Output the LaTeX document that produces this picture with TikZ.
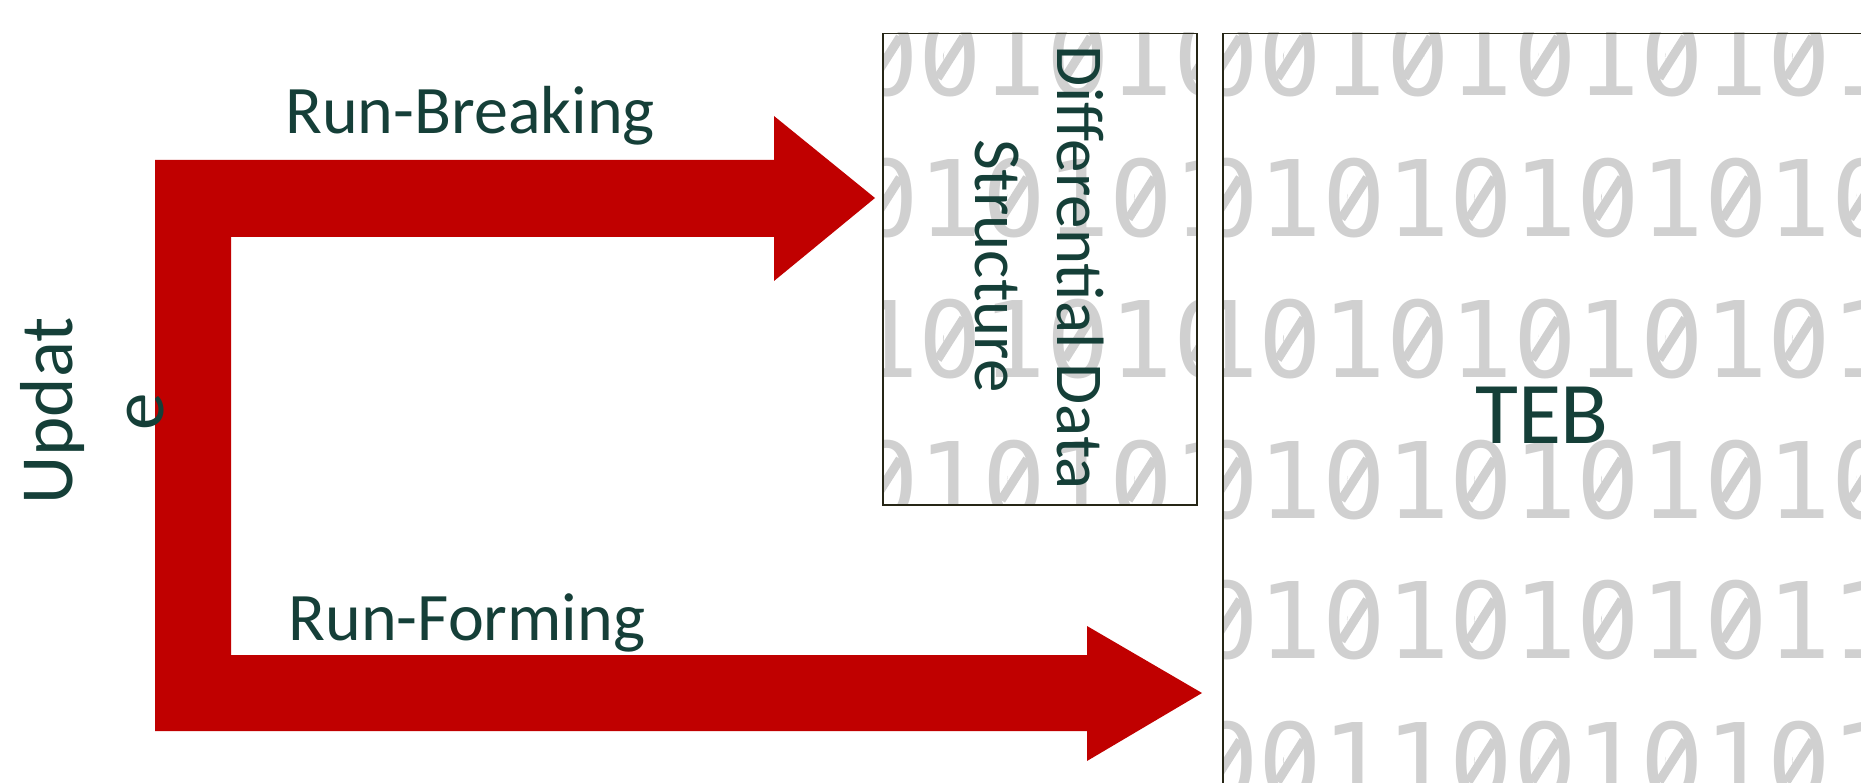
\documentclass[tikz,border=0pt]{standalone}
\usepackage{fontspec}
\setmainfont{Carlito}
\newfontfamily\bitfont{DejaVu Sans Mono}

\definecolor{arrowred}{RGB}{192,0,0}
\definecolor{labelink}{RGB}{21,63,56}
\definecolor{bitgray}{RGB}{208,208,208}
\definecolor{frameink}{RGB}{38,38,22}

% rows of the binary backdrop (same tile in both stores)
\def\bitrows{{0,0,1,0,1,0,1,0,1,0,1},{0,1,0,1,0,1,0,1,0,1,0},{1,0,1,0,1,0,1,0,1,0,1},
  {0,1,0,1,0,1,0,1,0,1,0},{0,1,0,1,0,1,0,1,0,1,1},{0,0,1,1,0,0,1,0,1,0,1}}

% #1 = left edge, #2 = top edge of the store; digits with slashed zeros
\newcommand\bitfield[2]{%
  \foreach \bits [count=\k from 0] in \bitrows {
    \foreach \d [count=\c from 0] in \bits {
      \pgfmathsetmacro\cx{#1+5+63.6*\c}
      \pgfmathsetmacro\by{#2+63+140.7*\k}
      \node[bitglyph] at (\cx,\by) {\d};
      \ifnum\d=0
        \fill[white] (\cx,\by-38.5) ellipse (7 and 12);
        \draw[bitgray, line width=9pt] (\cx-13,\by-18) -- (\cx+13,\by-59);
      \fi
    }
  }%
}

\begin{document}
\begin{tikzpicture}[x=1pt,y=-1pt,
  labeltext/.style={text=labelink, inner sep=0pt, outer sep=0pt},
  bitglyph/.style={text=bitgray, inner sep=0pt, outer sep=0pt, anchor=base,
                 font=\bitfont\fontsize{105.6}{140}\selectfont},
  panel/.style={draw=frameink, line width=1.5pt, fill=none, inner sep=0pt,
                anchor=north west}]
\useasboundingbox (0,0) rectangle (1861,783);

% binary backdrop of the two stores, tiled from each box's top-left corner
\begin{scope}
  \clip (882,33) rectangle (1196,504);
  \bitfield{882}{33}
\end{scope}
\begin{scope}
  \clip (1222,33) rectangle (1861,783);
  \bitfield{1222}{33}
\end{scope}

% the two stores
\node[panel, minimum width=314pt, minimum height=471pt] (dds) at (882,33) {};
\node[panel, minimum width=700pt, minimum height=800pt] (teb) at (1222,33) {};

% arrow tips just short of each store
\coordinate (brk) at (875,198);
\coordinate (frm) at (1202,693);

% forked update arrow
\fill[arrowred] (155,160) -- (774,160) -- (774,116) -- (brk) -- (774,281)
  -- (774,237) -- (231,237) -- (231,655) -- (1087,655) -- (1087,626)
  -- (frm) -- (1087,761) -- (1087,731) -- (155,731) -- cycle;

% labels
\node[labeltext, font=\fontsize{68}{82}\selectfont, anchor=base] (rb) at (470,134) {Run-Breaking};
\node[labeltext, font=\fontsize{68}{82}\selectfont, anchor=base] (rf) at (467,640) {Run-Forming};
\node[labeltext, font=\fontsize{88}{107}\selectfont, anchor=base] (teblabel) at (1542,443) {TEB};
\node[labeltext, font=\fontsize{67}{82}\selectfont, rotate=-90, anchor=base] (ddsa) at (1057,268) {Differential Data};
\node[labeltext, font=\fontsize{67}{82}\selectfont, rotate=-90, anchor=base] (ddsb) at (975,266) {Structure};
\node[labeltext, font=\fontsize{75}{91}\selectfont, rotate=90, anchor=base] (upda) at (72,411) {Updat};
\node[labeltext, font=\fontsize{75}{91}\selectfont, rotate=90, anchor=base] (updb) at (163,412) {e};
\end{tikzpicture}
\end{document}
